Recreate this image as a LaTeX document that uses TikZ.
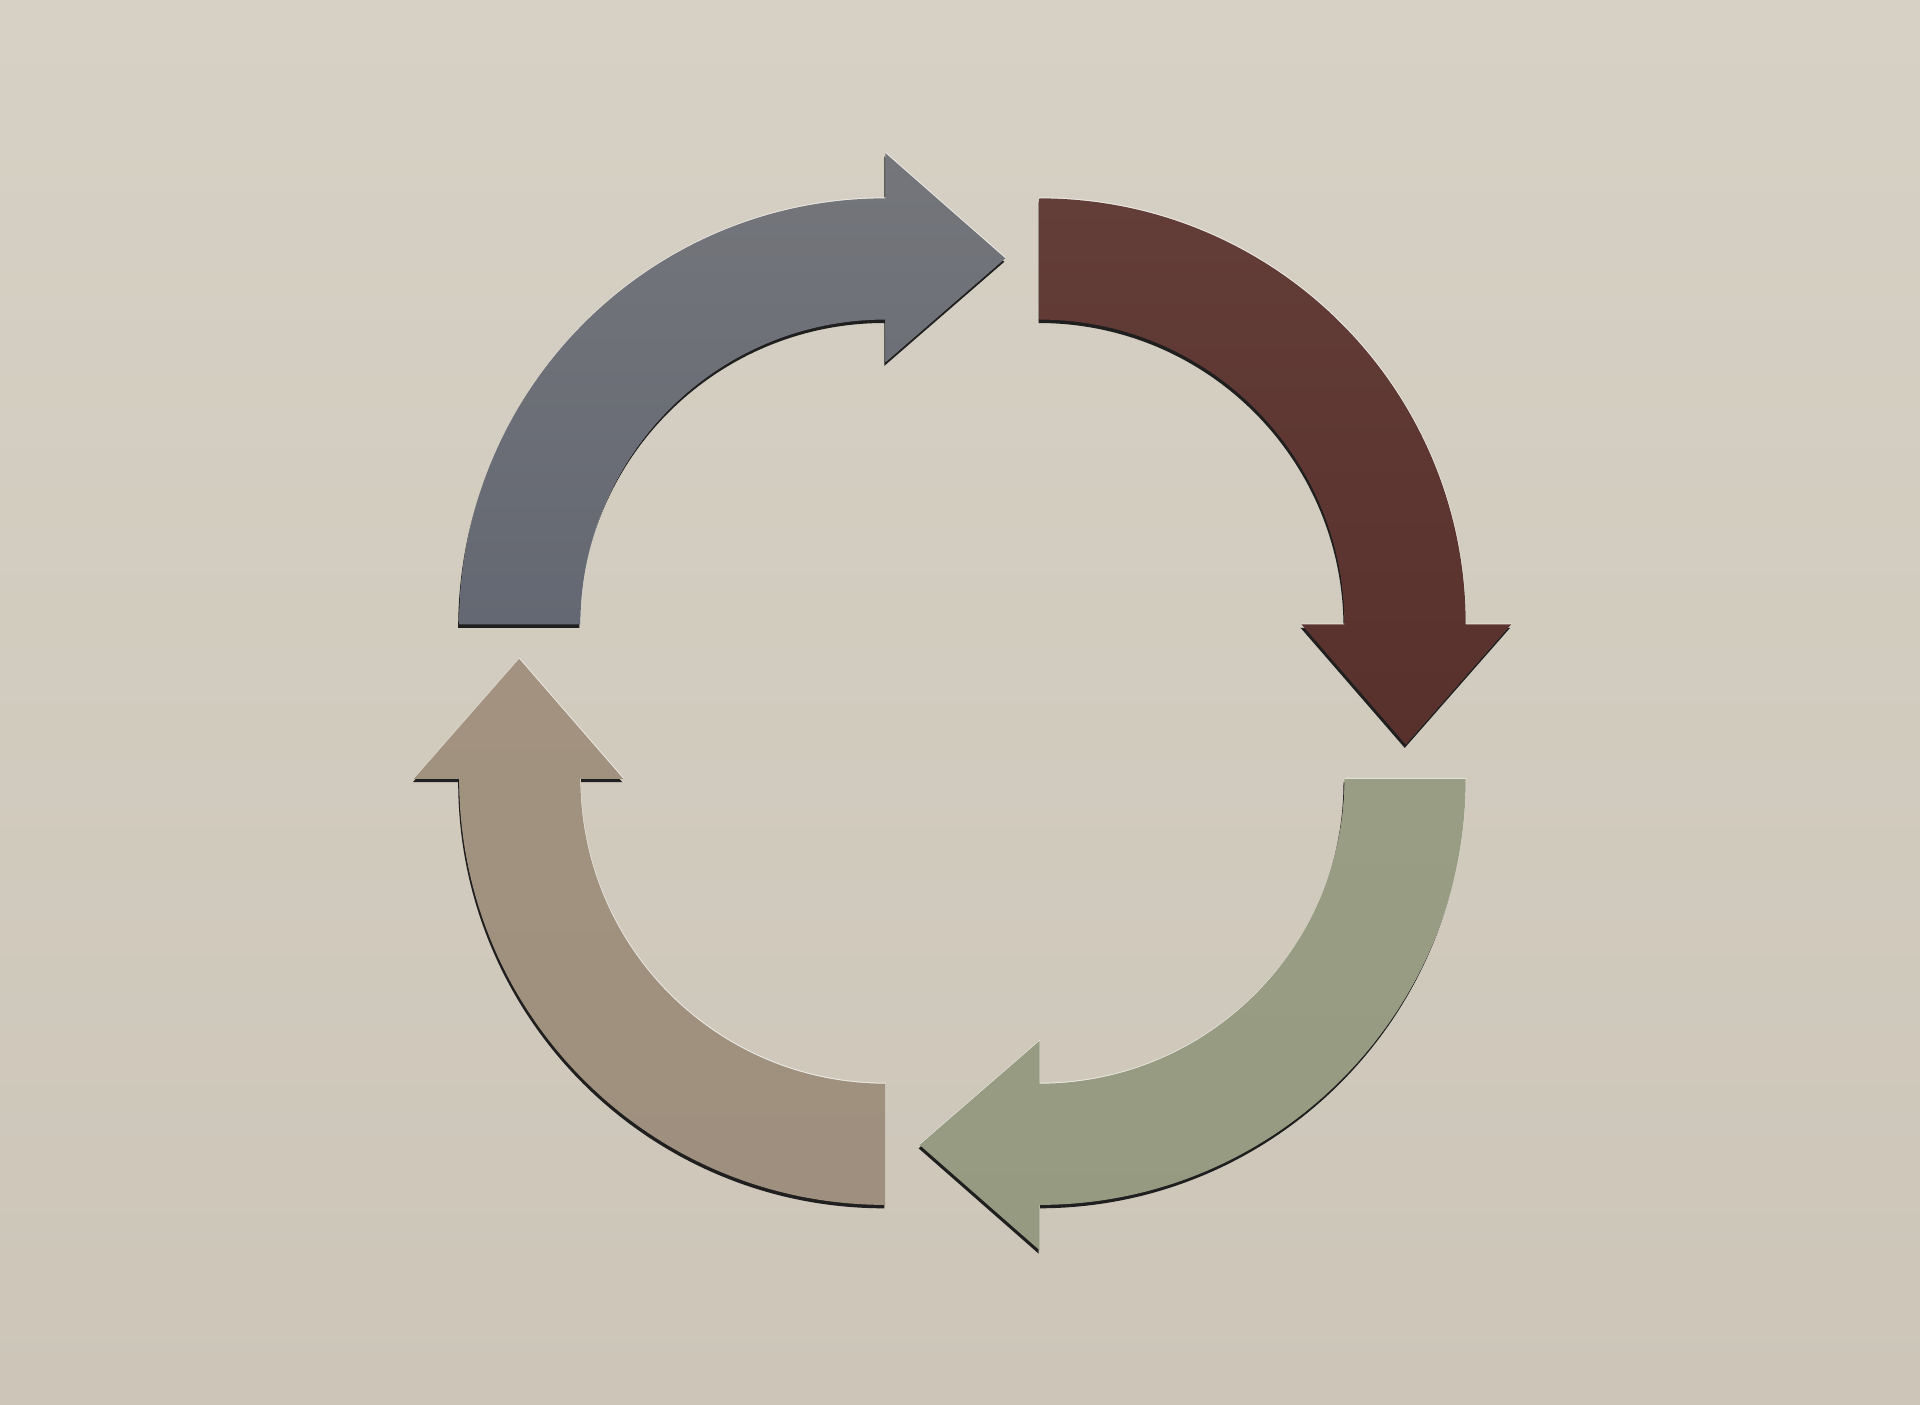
\documentclass[tikz,border=0pt]{standalone}
\definecolor{bgtop}{HTML}{D7D1C5}
\definecolor{bgbot}{HTML}{CCC5B8}
\definecolor{cgraytop}{HTML}{74767B}
\definecolor{cgraybot}{HTML}{646872}
\definecolor{credtop}{HTML}{633D38}
\definecolor{credbot}{HTML}{58302C}
\definecolor{cgreentop}{HTML}{989D84}
\definecolor{cgreenbot}{HTML}{959A81}
\definecolor{ctantop}{HTML}{A2927F}
\definecolor{ctanbot}{HTML}{9F8F7E}
\newcommand{\cyclearrow}{(-411,63) arc[start angle=180, end angle=90, radius=348]
  -- (-63,448) -- (35,362) -- (-63,277) -- (-63,312)
  arc[start angle=90, end angle=180, radius=249] -- cycle}
\tikzset{shadowfill/.style={fill=black!88}}
\begin{document}
\begin{tikzpicture}[x=1pt,y=1pt]
\useasboundingbox (-786,573) rectangle (782,-574);
\shade[top color=bgtop, bottom color=bgbot] (-786,573) rectangle (782,-574);
% shadows
\begin{scope}[xshift=-0.8pt,yshift=-2.8pt]
  \foreach \r in {0,-90,-180,-270}
    \fill[shadowfill,rotate=\r] \cyclearrow;
\end{scope}
% highlights
\begin{scope}[xshift=0.3pt,yshift=0.8pt]
  \foreach \r in {0,-90,-180,-270}
    \fill[white!55!bgtop,rotate=\r] \cyclearrow;
\end{scope}
% arrows
\shade[top color=cgraytop, bottom color=cgraybot] \cyclearrow;
\shade[top color=credtop, bottom color=credbot, rotate=-90] \cyclearrow;
\shade[top color=cgreentop, bottom color=cgreenbot, rotate=-180] \cyclearrow;
\shade[top color=ctantop, bottom color=ctanbot, rotate=-270] \cyclearrow;
\end{tikzpicture}
\end{document}
